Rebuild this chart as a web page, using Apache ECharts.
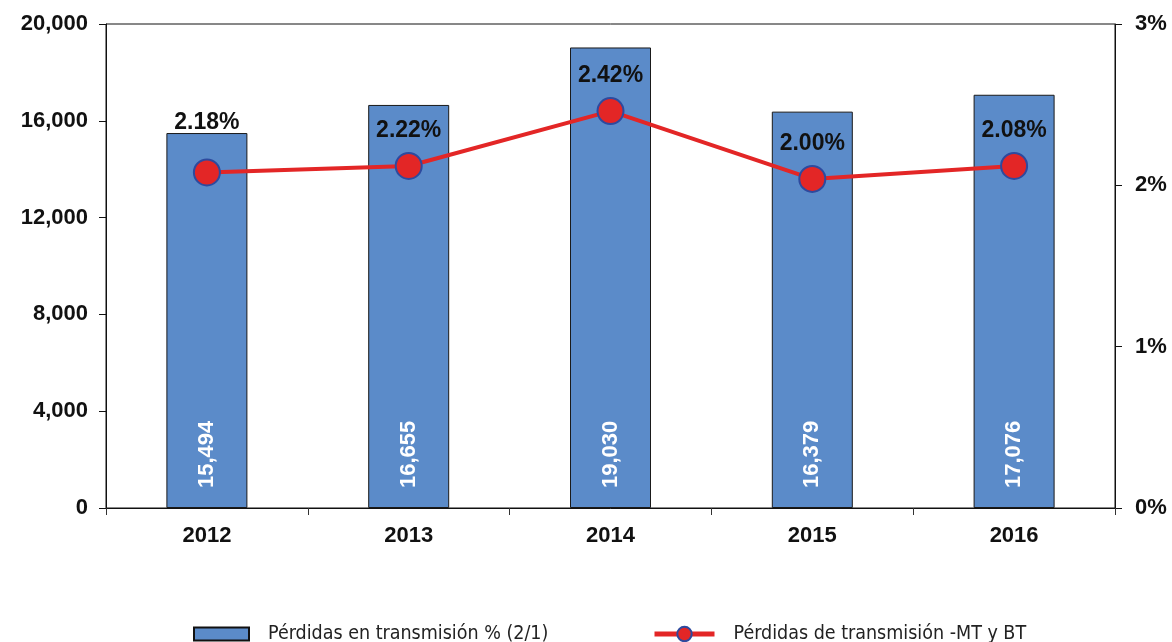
<!DOCTYPE html>
<html><head><meta charset="utf-8">
<script src="https://cdn.jsdelivr.net/npm/echarts@6/dist/echarts.min.js"></script>
<style>html,body{margin:0;padding:0;background:#fff}#c{width:1172px;height:642px}</style>
</head><body><div id="c"></div>
<script>
const categories = ['2012','2013','2014','2015','2016'];
const barValues = [15494, 16655, 19030, 16379, 17076];
const lineValues = [2.08, 2.12, 2.46, 2.04, 2.12];
const lineLabels = ['2.18%', '2.22%', '2.42%', '2.00%', '2.08%'];
const leftTicks = [0, 4000, 8000, 12000, 16000, 20000];
const rightTicks = [0, 1, 2, 3];
const barName = 'Pérdidas en transmisión % (2/1)';
const lineName = 'Pérdidas de transmisión -MT y BT';

const chart = echarts.init(document.getElementById('c'));
const axisFont = {fontFamily:'Liberation Sans, Arial', fontWeight:'bold', fontSize:22, color:'#111'};
const legendText = {fontFamily:'DejaVu Sans Condensed, Liberation Sans', fontSize:19.5, lineHeight:20, color:'#222', padding:[0,0,0,14]};
chart.setOption({
  animation:false,
  grid:{left:106, right:57, top:24, bottom:134, show:true, borderColor:'#111', borderWidth:1},
  legend:[
    {data:[{name:barName, icon:'rect', itemStyle:{borderColor:'#111', borderWidth:2}}], left:193, top:624, padding:0,
     itemWidth:55, itemHeight:13, textStyle:legendText},
    {data:[{name:lineName, lineStyle:{width:5}, itemStyle:{borderWidth:2}}], left:652, top:624, padding:0,
     itemWidth:60, itemHeight:18, textStyle:legendText}
  ],
  xAxis:{type:'category', data:categories,
    axisLine:{lineStyle:{color:'#111', width:1}},
    axisTick:{show:true, length:7, lineStyle:{color:'#333'}},
    axisLabel:Object.assign({margin:17}, axisFont)},
  yAxis:[
    {type:'value', min:leftTicks[0], max:leftTicks[leftTicks.length-1], interval:4000, position:'left',
     axisLine:{show:true, lineStyle:{color:'#111'}}, axisTick:{show:true, length:7, lineStyle:{color:'#111'}},
     splitLine:{show:false},
     axisLabel:Object.assign({margin:18, formatter:v=>v.toLocaleString('en-US')}, axisFont)},
    {type:'value', min:rightTicks[0], max:rightTicks[rightTicks.length-1], interval:1, position:'right',
     axisLine:{show:true, lineStyle:{color:'#111'}}, axisTick:{show:true, length:7, lineStyle:{color:'#111'}},
     splitLine:{show:false},
     axisLabel:Object.assign({margin:20, formatter:'{value}%'}, axisFont)}
  ],
  series:[
    {name:barName, type:'bar', data:barValues, barWidth:81, yAxisIndex:0,
     itemStyle:{color:'#5b8bc9', borderColor:'#1a1a1a', borderWidth:1},
     label:{show:true, position:'insideBottom', rotate:90, distance:20, align:'left', verticalAlign:'middle',
       color:'#fff', fontFamily:'Liberation Sans, Arial', fontWeight:'bold', fontSize:22,
       formatter:p=>p.value.toLocaleString('en-US')}},
    {name:lineName, type:'line', data:lineValues.map((v,i)=>({value:v, label:{distance: i===0?24:10}})), yAxisIndex:1,
     symbol:'circle', symbolSize:26,
     lineStyle:{color:'#e32626', width:4},
     itemStyle:{color:'#e32626', borderColor:'#2e4a9e', borderWidth:2},
     label:{show:true, position:'top', color:'#111', fontFamily:'Liberation Sans, Arial', fontWeight:'bold', fontSize:23,
       formatter:p=>lineLabels[p.dataIndex]}}
  ]
});
</script></body></html>
